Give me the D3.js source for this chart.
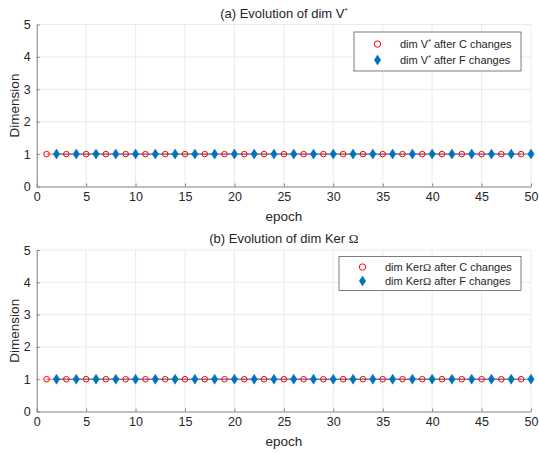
<!DOCTYPE html>
<html>
<head>
<meta charset="utf-8">
<script src="https://cdn.jsdelivr.net/npm/d3@7"></script>
<style>
  body { margin: 0; background: #fff; }
  text { font-family: "Liberation Sans", Arial, sans-serif; fill: #262626; }
</style>
</head>
<body>
<div id="vis-holder"></div>
<script>
// epochs where each kind of change happened
let C_EPOCHS = [1,3,5,7,9,11,13,15,17,19,21,23,25,27,29,31,33,35,37,39,41,43,45,47,49]
let C_DIM_V  = [1,1,1,1,1,1,1,1,1,1,1,1,1,1,1,1,1,1,1,1,1,1,1,1,1]
let F_EPOCHS = [2,4,6,8,10,12,14,16,18,20,22,24,26,28,30,32,34,36,38,40,42,44,46,48,50]
let F_DIM_V  = [1,1,1,1,1,1,1,1,1,1,1,1,1,1,1,1,1,1,1,1,1,1,1,1,1]
let C_DIM_KER = [1,1,1,1,1,1,1,1,1,1,1,1,1,1,1,1,1,1,1,1,1,1,1,1,1]
let F_DIM_KER = [1,1,1,1,1,1,1,1,1,1,1,1,1,1,1,1,1,1,1,1,1,1,1,1,1]
let X_TICKS = [0,5,10,15,20,25,30,35,40,45,50]
let Y_TICKS = [0,1,2,3,4,5]

var W = 539, H = 453;
var svg = d3.select("#vis-holder").append("svg")
    .attr("width", W).attr("height", H);

var x = d3.scaleLinear().domain([0, 50]).range([36.7, 531]);

var panels = [
  {top: 24.5, bottom: 186.5, c: C_DIM_V, f: F_DIM_V, title: "a", legend: "V",
   lg: {x: 354, y: 32, w: 167, h: 39, mx: 377.5, tx: 400}},
  {top: 250, bottom: 411.5, c: C_DIM_KER, f: F_DIM_KER, title: "b", legend: "K",
   lg: {x: 339, y: 256.5, w: 182, h: 34, mx: 362.5, tx: 385}}
];

var RED = "#ff0000", BLUE = "#0072bd";
var diamond = "M0,-5L3.2,0L0,5L-3.2,0Z";

panels.forEach(function(p) {
  var y = d3.scaleLinear().domain([0, 5]).range([p.bottom, p.top]);
  var g = svg.append("g");

  // grid
  g.selectAll(".gx").data(X_TICKS.slice(1)).enter().append("line")
    .attr("x1", d => x(d)).attr("x2", d => x(d))
    .attr("y1", p.top).attr("y2", p.bottom)
    .attr("stroke", "#e6e6e6").attr("stroke-width", 0.8);
  g.selectAll(".gy").data(Y_TICKS.slice(1)).enter().append("line")
    .attr("x1", x(0)).attr("x2", x(50))
    .attr("y1", d => y(d)).attr("y2", d => y(d))
    .attr("stroke", "#e6e6e6").attr("stroke-width", 0.8);

  // axes
  var ax = g.append("g").attr("transform", "translate(0," + p.bottom + ")")
    .call(d3.axisBottom(x).tickValues(X_TICKS).tickFormat(d3.format("d"))
      .tickSizeInner(-3).tickSizeOuter(0).tickPadding(6));
  var ay = g.append("g").attr("transform", "translate(" + x(0) + ",0)")
    .call(d3.axisLeft(y).tickValues(Y_TICKS).tickFormat(d3.format("d"))
      .tickSizeInner(-3).tickSizeOuter(0).tickPadding(6));
  [ax, ay].forEach(function(a) {
    a.select(".domain").attr("stroke", "#808080").attr("stroke-width", 1);
    a.selectAll(".tick line").attr("stroke", "#808080");
    a.selectAll(".tick text").attr("font-size", "12.5px")
      .attr("font-family", "Liberation Sans, Arial, sans-serif").attr("fill", "#262626");
  });

  // lines
  var cPts = C_EPOCHS.map((e, i) => [e, p.c[i]]);
  var fPts = F_EPOCHS.map((e, i) => [e, p.f[i]]);
  var line = d3.line().x(d => x(d[0])).y(d => y(d[1]));
  g.append("path").datum(cPts).attr("d", line).attr("fill", "none")
    .attr("stroke", RED).attr("stroke-width", 0.6);
  g.append("path").datum(fPts).attr("d", line).attr("fill", "none")
    .attr("stroke", BLUE).attr("stroke-width", 0.8);

  // markers
  g.selectAll(".c").data(cPts).enter().append("circle")
    .attr("cx", d => x(d[0])).attr("cy", d => y(d[1])).attr("r", 2.8)
    .attr("fill", "none").attr("stroke", RED).attr("stroke-width", 1);
  g.selectAll(".f").data(fPts).enter().append("path")
    .attr("d", diamond)
    .attr("transform", d => "translate(" + x(d[0]) + "," + y(d[1]) + ")")
    .attr("fill", BLUE).attr("stroke", BLUE).attr("stroke-width", 0.5);

  // labels
  g.append("text").attr("x", (x(0) + x(50)) / 2).attr("y", p.bottom + 34)
    .attr("text-anchor", "middle").attr("font-size", "13.5px").text("epoch");
  g.append("text")
    .attr("transform", "translate(19," + (p.top + p.bottom) / 2 + ") rotate(-90)")
    .attr("text-anchor", "middle").attr("font-size", "13.5px").text("Dimension");

  var t = g.append("text").attr("x", (x(0) + x(50)) / 2).attr("y", p.top - 7)
    .attr("text-anchor", "middle").attr("font-size", "13px");
  if (p.legend === "V") {
    t.append("tspan").text("(a) Evolution of dim V");
    t.append("tspan").attr("font-size", "8px").attr("dy", -5).text("*");
  } else {
    t.append("tspan").text("(b) Evolution of dim Ker ");
    t.append("tspan").attr("font-family", "Liberation Serif, serif").text("Ω");
  }

  // legend
  var L = p.lg;
  var lg = g.append("g");
  lg.append("rect").attr("x", L.x).attr("y", L.y).attr("width", L.w).attr("height", L.h)
    .attr("fill", "#fff").attr("stroke", "#262626").attr("stroke-width", 0.6);
  var rows = [L.y + L.h * 0.31, L.y + L.h * 0.72];
  lg.append("circle").attr("cx", L.mx).attr("cy", rows[0]).attr("r", 3.2)
    .attr("fill", "none").attr("stroke", RED).attr("stroke-width", 1);
  lg.append("path").attr("d", diamond)
    .attr("transform", "translate(" + L.mx + "," + rows[1] + ")")
    .attr("fill", BLUE).attr("stroke", BLUE).attr("stroke-width", 0.5);
  ["C", "F"].forEach(function(k, i) {
    var tt = lg.append("text").attr("x", L.tx).attr("y", rows[i] + 4).attr("font-size", "11px");
    if (p.legend === "V") {
      tt.append("tspan").text("dim V");
      tt.append("tspan").attr("font-size", "7px").attr("dy", -4).text("*");
      tt.append("tspan").attr("dy", 4).text(" after " + k + " changes");
    } else {
      tt.append("tspan").text("dim Ker");
      tt.append("tspan").attr("font-family", "Liberation Serif, serif").text("Ω");
      tt.append("tspan").text(" after " + k + " changes");
    }
  });
});
</script>
</body>
</html>
